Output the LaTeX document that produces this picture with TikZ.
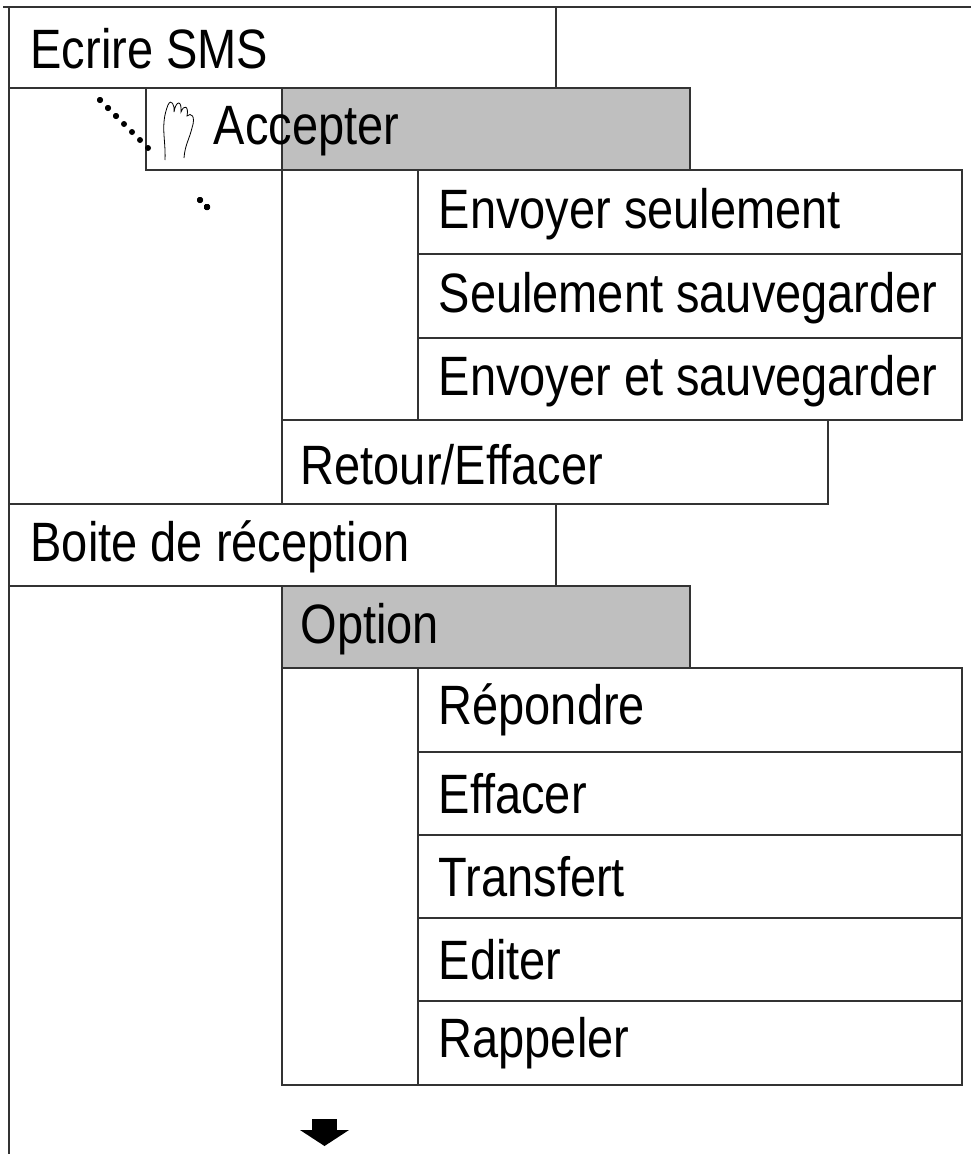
\documentclass[tikz,border=0pt]{standalone}
\usepackage{fontspec}
\setmainfont{Liberation Sans}
\begin{document}
\begin{tikzpicture}[x=1pt,y=-1pt,line width=1.3pt,
  box/.style={draw=black!80},
  gbox/.style={draw=black!80,fill=black!25},
  lbl/.style={anchor=west,inner sep=0pt,font=\fontsize{47}{50}\selectfont}]
\useasboundingbox (0,0) rectangle (971,1154);
\newcommand{\st}[1]{\scalebox{1}[1.18]{#1}}
% frame
\draw[black!80] (3,7) -- (971,7);
\draw[black!80] (9,7) -- (9,1154);
% Ecrire SMS
\draw[box] (9,7) rectangle (556,88);
\node[lbl] (ecrire) at (30,49) {\st{Ecrire SMS}};
% Accepter
\draw[box] (146,88) rectangle (282,170);
\draw[gbox] (282,88) rectangle (690,170);
\node[lbl] (acc) at (213,131) {\st{Accepter}};
% icon dots
\foreach \px/\py in {200,100, 207,100, 200,108, 207,108, 200,116, 207,116, 207,124, 207,132, 207,140, 207,148}
  \fill (\px,\py) circle (3pt);
\draw[line width=0.8pt] (165,160) .. controls (166,140) and (160,125) .. (168,105)
  .. controls (171,98) and (175,105) .. (174,112) .. controls (176,100) and (182,100) .. (181,112)
  .. controls (184,104) and (189,106) .. (187,116) .. controls (191,112) and (196,116) .. (192,128)
  .. controls (189,140) and (185,145) .. (184,158);
% column under Accepter
\draw[box] (282,170) -- (282,504);
\draw[box] (418,170) -- (418,420);
\draw[box] (418,170) rectangle (962,254);
\draw[box] (418,254) rectangle (962,338);
\draw[box] (418,338) rectangle (962,420);
\node[lbl] (e1) at (438,214) {\st{Envoyer seulement}};
\node[lbl] (e2) at (438,298) {\st{Seulement sauvegarder}};
\node[lbl] (e3) at (438,381) {\st{Envoyer et sauvegarder}};
\draw[box] (282,420) rectangle (828,504);
\node[lbl] (ret) at (300,465) {\st{Retour/Effacer}};
% Boite
\draw[box] (9,504) rectangle (556,586);
\node[lbl] (boite) at (30,547) {\st{Boite de réception}};
\draw[gbox] (282,586) rectangle (690,668);
\node[lbl] (opt) at (300,629) {\st{Option}};
\draw[box] (282,668) rectangle (418,1085);
\foreach \a/\b/\t [count=\i] in {668/752/Répondre,752/835/Effacer,835/918/Transfert,918/1001/Editer,1001/1085/Rappeler}{
  \draw[box] (418,\a) rectangle (962,\b);
  \node[lbl] (r\i) at (438,{(\a+\b)/2}) {\st{\t}};
}
% arrow
\fill (312,1119) rectangle (337,1130);
\fill (300,1130) -- (349,1130) -- (324.5,1146) -- cycle;
\end{tikzpicture}
\end{document}
